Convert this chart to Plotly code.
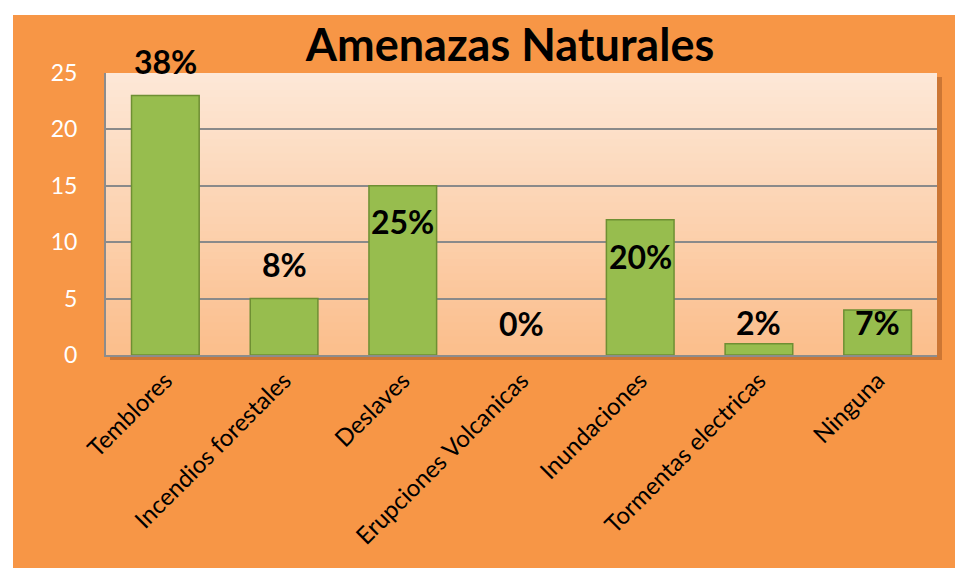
import plotly.graph_objects as go

# data
categories = ['Temblores', 'Incendios forestales', 'Deslaves', 'Erupciones Volcanicas',
              'Inundaciones', 'Tormentas electricas', 'Ninguna']
counts = [23, 5, 15, 0, 12, 1, 4]
y_ticks = [0, 5, 10, 15, 20, 25]

total = sum(counts)
pct_labels = [f"{round(v / total * 100)}%" for v in counts]

# vertical pixel offset of each percentage label relative to its bar top
label_shift = [34, 34, -36, 32, -37, 21, -13]

ORANGE = '#F79646'
BAR = '#97BD4E'
BAR_EDGE = '#6E8F33'
FONT = 'Lato, Carlito, Calibri, sans-serif'

fig = go.Figure()

fig.add_trace(go.Bar(
    x=categories,
    y=counts,
    marker=dict(color=BAR,
                line=dict(color=BAR_EDGE, width=[1.5 if v > 0 else 0 for v in counts])),
    hoverinfo='x+y',
))

for cat, v, lab, dy in zip(categories, counts, pct_labels, label_shift):
    fig.add_annotation(
        x=cat, y=v, text=f"<b>{lab}</b>", showarrow=False,
        yshift=dy, font=dict(size=32, color='black', family=FONT),
    )

# the page body adds an 8px offset, so positions are given 8px up/left
OFF = 8
W, H = 963, 568
L, R, T, B = 106 - OFF, 26 + OFF, 73 - OFF, 213 + OFF
pw, ph = W - L - R, H - T - B

shapes = []
# orange chart frame with white strip on top/left
shapes.append(dict(type='rect', xref='paper', yref='paper', layer='below',
                   x0=(13 - OFF - L) / pw, x1=(W - L) / pw + 0.05,
                   y0=-(B + 5) / ph, y1=1 + (T - (15 - OFF)) / ph,
                   fillcolor=ORANGE, line=dict(width=0)))
# soft shadow behind plot area
shapes.append(dict(type='rect', xref='paper', yref='paper', layer='below',
                   x0=4 / pw, x1=1 + 5 / pw, y0=-5 / ph, y1=1 - 4 / ph,
                   fillcolor='rgba(150,80,30,0.45)', line=dict(width=0)))
# gradient plot background as overlapping strips
top_c = (253, 233, 217)
bot_c = (251, 190, 140)
n = 40
for i in range(n):
    t = (i + 0.5) / n
    c = tuple(round(top_c[k] + (bot_c[k] - top_c[k]) * t) for k in range(3))
    shapes.append(dict(type='rect', xref='x domain', yref='y domain', layer='below',
                       x0=0, x1=1, y0=max(0, 1 - (i + 1) / n), y1=min(1, 1 - i / n + 0.6 / n),
                       fillcolor=f'rgb{c}', line=dict(width=0)))

fig.update_layout(
    width=W, height=H,
    margin=dict(l=L, r=R, t=T, b=B, autoexpand=False),
    paper_bgcolor='white',
    plot_bgcolor='rgb(252,210,175)',
    font=dict(family=FONT, color='black'),
    title=dict(text='<b>Amenazas Naturales</b>', x=(510 - OFF) / W, xanchor='center',
               y=1 - (45 - OFF) / H, yanchor='middle',
               font=dict(size=45, color='black', family=FONT)),
    bargap=0.43,
    showlegend=False,
    shapes=shapes,
    xaxis=dict(
        automargin=False,
        tickangle=-45,
        tickfont=dict(size=24, color='black', family=FONT),
        showgrid=False,
        showline=True, linecolor='#8C8C8C', linewidth=2,
        ticks='',
    ),
    yaxis=dict(
        automargin=False,
        range=[0, 25],
        tickvals=y_ticks,
        tickfont=dict(size=23, color='white', family=FONT),
        showgrid=True, gridcolor='#8A8A8A', gridwidth=1.5,
        showline=True, linecolor='#8C8C8C', linewidth=2,
        zeroline=False,
        ticks='',
        ticklabelstandoff=22,
    ),
)

fig.write_html("out.html")
